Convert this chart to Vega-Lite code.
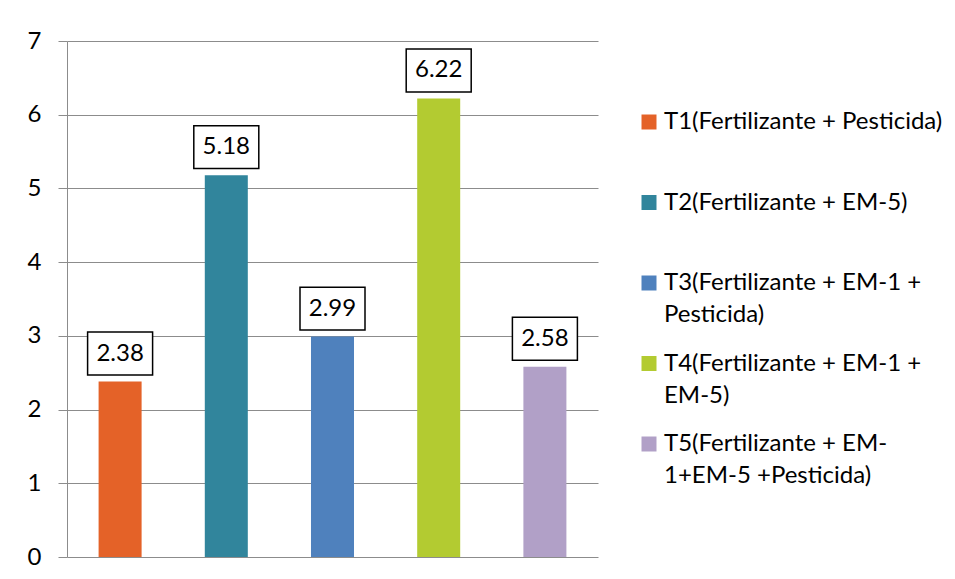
{
  "$schema": "https://vega.github.io/schema/vega-lite/v6.json",
  "width": 531,
  "height": 516,
  "autosize": "none",
  "padding": {"left": 67, "top": 41, "right": 357, "bottom": 22},
  "background": "white",
  "config": {"view": {"stroke": null}, "font": "Lato"},
  "data": {
    "values": [
      {"tratamiento": "T1(Fertilizante + Pesticida)", "valor": 2.38},
      {"tratamiento": "T2(Fertilizante + EM-5)", "valor": 5.18},
      {"tratamiento": "T3(Fertilizante + EM-1 + Pesticida)", "valor": 2.99},
      {"tratamiento": "T4(Fertilizante + EM-1 + EM-5)", "valor": 6.22},
      {"tratamiento": "T5(Fertilizante + EM-1+EM-5 +Pesticida)", "valor": 2.58}
    ]
  },
  "encoding": {
    "x": {
      "field": "tratamiento",
      "type": "nominal",
      "sort": null,
      "scale": {"paddingInner": 0.595, "paddingOuter": 0.2975},
      "axis": {"labels": false, "ticks": false, "title": null, "domain": false}
    },
    "y": {
      "field": "valor",
      "type": "quantitative",
      "scale": {"domain": [0, 7]},
      "axis": {
        "title": null,
        "values": [0, 1, 2, 3, 4, 5, 6, 7],
        "format": "d",
        "labelFontSize": 24,
        "labelColor": "black",
        "labelPadding": 17,
        "tickSize": 9,
        "tickColor": "#8c8c8c",
        "domainColor": "#8c8c8c",
        "gridColor": "#8c8c8c",
        "gridOpacity": 1,
        "grid": true
      }
    }
  },
  "layer": [
    {
      "mark": {"type": "bar"},
      "encoding": {
        "color": {
          "field": "tratamiento",
          "type": "nominal",
          "sort": null,
          "scale": {
            "domain": [
              "T1(Fertilizante + Pesticida)",
              "T2(Fertilizante + EM-5)",
              "T3(Fertilizante + EM-1 + Pesticida)",
              "T4(Fertilizante + EM-1 + EM-5)",
              "T5(Fertilizante + EM-1+EM-5 +Pesticida)"
            ],
            "range": ["#E46228", "#31859C", "#4F81BD", "#B3CB31", "#B1A0C7"]
          },
          "legend": {
            "orient": "none",
            "legendX": 570,
            "legendY": 69,
            "title": null,
            "symbolType": "square",
            "symbolSize": 225,
            "symbolStrokeWidth": 0,
            "labelFontSize": 24,
            "labelColor": "black",
            "labelLimit": 400,
            "labelOffset": 3,
            "gridAlign": "all",
            "rowPadding": 24.5,
            "labelExpr": "datum.label == 'T3(Fertilizante + EM-1 + Pesticida)' ? ['T3(Fertilizante + EM-1 +', 'Pesticida)'] : datum.label == 'T4(Fertilizante + EM-1 + EM-5)' ? ['T4(Fertilizante + EM-1 +', 'EM-5)'] : datum.label == 'T5(Fertilizante + EM-1+EM-5 +Pesticida)' ? ['T5(Fertilizante + EM-', '1+EM-5 +Pesticida)'] : datum.label",
            "encode": {"labels": {"update": {"lineHeight": {"value": 32}}}}
          }
        }
      }
    },
    {
      "mark": {
        "type": "point",
        "shape": "M-1,-0.66H1V0.66H-1Z",
        "size": 4225,
        "filled": true,
        "fill": "white",
        "stroke": "black",
        "strokeWidth": 1.5,
        "opacity": 1,
        "yOffset": -28
      }
    },
    {
      "mark": {"type": "text", "fontSize": 24, "yOffset": -28, "baseline": "middle", "color": "black"},
      "encoding": {"text": {"field": "valor", "type": "quantitative", "format": ".2f"}}
    }
  ]
}
